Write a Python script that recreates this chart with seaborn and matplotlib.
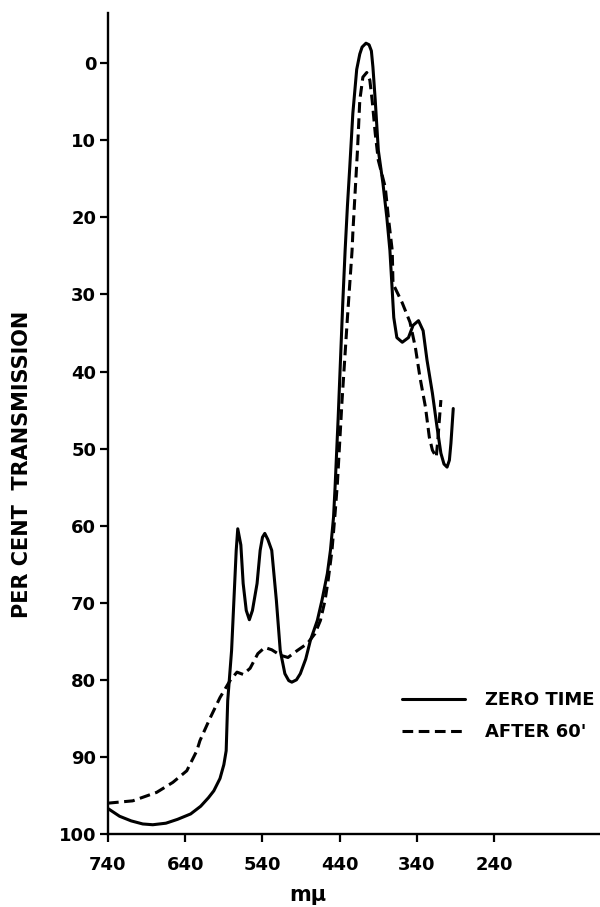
import matplotlib
matplotlib.use("Agg")
import matplotlib.pyplot as plt
import seaborn as sns
import pandas as pd
from matplotlib.lines import Line2D

# ---- data ----
zero_x = [740, 725, 710, 695, 682, 665, 650, 633, 620, 610, 603, 595, 590, 587,
          585, 580, 577, 574, 572, 568, 565, 561, 557, 553, 547, 543, 540, 537,
          533, 528, 522, 517, 511, 506, 502, 496, 491, 484, 478, 469, 463, 456,
          452, 448, 446, 442, 439, 436, 433, 430, 427, 423, 418, 414, 411, 406,
          402, 399, 397, 394, 390, 384, 379, 375, 372, 370, 366, 359, 351, 345,
          338, 332, 327, 320, 314, 309, 305, 301, 298, 296, 293]
zero_y = [96.7, 97.7, 98.3, 98.7, 98.8, 98.6, 98.1, 97.4, 96.4, 95.3, 94.4, 92.8, 91.0, 89.2,
          82.7, 76.2, 69.7, 63.2, 60.4, 62.5, 67.5, 71.0, 72.2, 71.0, 67.5, 63.2, 61.5, 61.0,
          61.8, 63.2, 69.7, 76.2, 79.2, 80.1, 80.3, 80.0, 79.2, 77.3, 74.9, 72.3, 69.7, 66.2,
          63.2, 58.9, 55.0, 46.0, 38.5, 31.0, 24.3, 18.5, 13.5, 6.5, 0.8, -1.2, -2.1, -2.6,
          -2.4, -1.6, 0.5, 4.8, 11.3, 15.6, 20.0, 24.3, 29.5, 33.0, 35.6, 36.2, 35.6, 34.0,
          33.4, 34.7, 38.5, 42.8, 47.2, 50.6, 52.0, 52.4, 51.5, 49.3, 44.8]

after_x = [740, 708, 677, 656, 638, 625, 621, 608, 595, 582, 573, 565, 556, 546,
           537, 528, 517, 507, 495, 482, 472, 465, 459, 455, 450, 446, 443, 437,
           430, 424, 423, 417, 414, 410, 405, 401, 398, 394, 390, 381, 377, 372,
           371, 359, 349, 342, 336, 329, 324, 320, 315, 313, 309]
after_y = [96.0, 95.7, 94.6, 93.3, 91.8, 89.2, 87.9, 85.0, 82.3, 80.1, 79.0, 79.3, 78.5, 76.6,
           75.8, 76.1, 76.8, 77.1, 76.2, 75.3, 74.0, 72.3, 69.7, 67.1, 63.2, 58.4, 54.5, 43.8,
           33.0, 24.3, 22.0, 11.3, 4.8, 1.8, 1.2, 2.2, 4.8, 9.1, 12.6, 16.1, 20.0, 24.3,
           28.6, 31.1, 33.6, 36.9, 40.8, 44.6, 48.5, 50.2, 51.1, 48.9, 43.7]

x_ticks = [740, 640, 540, 440, 340, 240]
y_ticks = [0, 10, 20, 30, 40, 50, 60, 70, 80, 90, 100]
series_names = ["ZERO TIME", "AFTER 60'"]

df = pd.concat([
    pd.DataFrame({"wl": zero_x, "T": zero_y, "series": series_names[0]}),
    pd.DataFrame({"wl": after_x, "T": after_y, "series": series_names[1]}),
], ignore_index=True)

sns.set_theme(style="ticks")
plt.rcParams["font.family"] = ["DejaVu Sans"]
plt.rcParams["font.weight"] = "bold"
plt.rcParams["text.color"] = "black"
plt.rcParams["axes.labelcolor"] = "black"
plt.rcParams["xtick.color"] = "black"
plt.rcParams["ytick.color"] = "black"

fig = plt.figure(figsize=(6.0, 9.07), dpi=100)
ax = fig.add_axes([0.18, 0.0805, 0.82, 0.905])

lw = 2.2
sns.lineplot(data=df, x="wl", y="T", hue="series", style="series",
             palette=["black", "black"], dashes=[(None, None), (3.5, 1.8)],
             sort=False, estimator=None, linewidth=lw, ax=ax, legend=False)

ax.set_xlim(740, 103)
ax.set_ylim(100, -6.5)
ax.set_xticks(x_ticks)
ax.set_yticks(y_ticks)
ax.set_xticklabels([str(v) for v in x_ticks], fontsize=13, fontweight="bold", color="black")
ax.set_yticklabels([str(v) for v in y_ticks], fontsize=13, fontweight="bold", color="black")

for s in ["top", "right"]:
    ax.spines[s].set_visible(False)
for s in ["left", "bottom"]:
    ax.spines[s].set_linewidth(1.7)
    ax.spines[s].set_color("black")
ax.tick_params(axis="both", direction="out", length=5.5, width=1.6, colors="black")
ax.tick_params(axis="x", pad=10)
ax.tick_params(axis="y", pad=3)

ax.set_xlabel("mμ", fontsize=15, fontweight="bold", color="black")
ax.xaxis.set_label_coords(0.407, -0.062)
ax.set_ylabel("PER CENT  TRANSMISSION", fontsize=15, fontweight="bold", color="black")
ax.yaxis.set_label_coords(-0.155, 0.45)

handles = [Line2D([], [], color="black", lw=lw),
           Line2D([], [], color="black", lw=lw, dashes=(3.5, 1.8))]
leg = ax.legend(handles, series_names, loc="upper left",
                bbox_to_anchor=(402 / 600, 1 - 691 / 907), bbox_transform=fig.transFigure,
                frameon=False, borderpad=0, borderaxespad=0, handlelength=3.5,
                handletextpad=1.1, labelspacing=0.8,
                prop={"size": 13, "weight": "bold"})
for t in leg.get_texts():
    t.set_color("black")

fig.savefig("out.png", dpi=100)
